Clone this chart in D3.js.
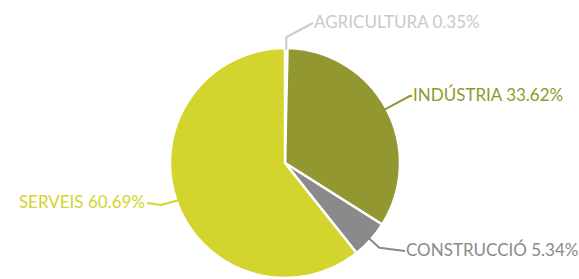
<!DOCTYPE html>
<html>
<head>
<meta charset="utf-8">
<script src="https://cdnjs.cloudflare.com/ajax/libs/d3/7.8.5/d3.min.js"></script>
<style>
  body { margin: 0; background: #fff; }
  text { font-family: "Lato", "Open Sans", sans-serif; }
</style>
</head>
<body>
<div id="pie"></div>
<script>
var svgWidth = 579;
var svgHeight = 279;

// data
var sectors = ["AGRICULTURA", "INDÚSTRIA", "CONSTRUCCIÓ", "SERVEIS"];
var shares = [0.35, 33.62, 5.34, 60.69];
var colors = ["#c9c9c9", "#93972f", "#8a8a8a", "#d3d42d"];

// label placement (elbow = radial extension, end = offset from centre)
var labelLayout = [
    { ext: 11, end: [28, -140], side: "start" },
    { ext: 27, end: [127, -67], side: "start" },
    { ext: 12, end: [120, 88], side: "start" },
    { ext: 0, end: [-138, 40], side: "end" }
];

var cx = 285;
var cy = 163;
var radius = 115;

var svg = d3.select("#pie")
    .append("svg")
    .attr("width", svgWidth)
    .attr("height", svgHeight);

var chartGroup = svg.append("g")
    .attr("transform", `translate(${cx}, ${cy})`);

var pie = d3.pie()
    .sort(null)
    .value(d => d.value);

var arc = d3.arc()
    .innerRadius(0)
    .outerRadius(radius);

var mainData = sectors.map(function(s, i) {
    return { name: s, value: shares[i], color: colors[i], layout: labelLayout[i] };
});

var arcs = pie(mainData);

// slices
chartGroup.selectAll("path.slice")
    .data(arcs)
    .enter()
    .append("path")
    .attr("class", "slice")
    .attr("d", arc)
    .attr("fill", d => d.data.color)
    .attr("stroke", "#fff")
    .attr("stroke-width", 2.5)
    .attr("stroke-linejoin", "round");

// connectors
function edgePoint(d, r) {
    var a = (d.startAngle + d.endAngle) / 2;
    return [r * Math.sin(a), -r * Math.cos(a)];
}

chartGroup.selectAll("path.connector")
    .data(arcs)
    .enter()
    .append("path")
    .attr("class", "connector")
    .attr("d", function(d) {
        var p0 = edgePoint(d, radius - 2);
        var p1 = edgePoint(d, radius + d.data.layout.ext);
        if (d.data.layout.ext === 0) {
            p1 = [d.data.layout.end[0] + 14, d.data.layout.end[1] + 2];
        }
        return d3.line()([p0, p1, d.data.layout.end]);
    })
    .attr("fill", "none")
    .attr("stroke", d => d.data.color)
    .attr("stroke-width", 2);

// labels
chartGroup.selectAll("text.label")
    .data(arcs)
    .enter()
    .append("text")
    .attr("class", "label")
    .attr("x", d => d.data.layout.end[0] + (d.data.layout.side === "start" ? 1 : -2))
    .attr("y", d => d.data.layout.end[1] + 1)
    .attr("text-anchor", d => d.data.layout.side)
    .attr("dominant-baseline", "middle")
    .attr("fill", d => d.data.color)
    .style("font-size", "17px")
    .text(d => d.data.name + " " + d3.format(".2f")(d.data.value) + "%");
</script>
</body>
</html>
